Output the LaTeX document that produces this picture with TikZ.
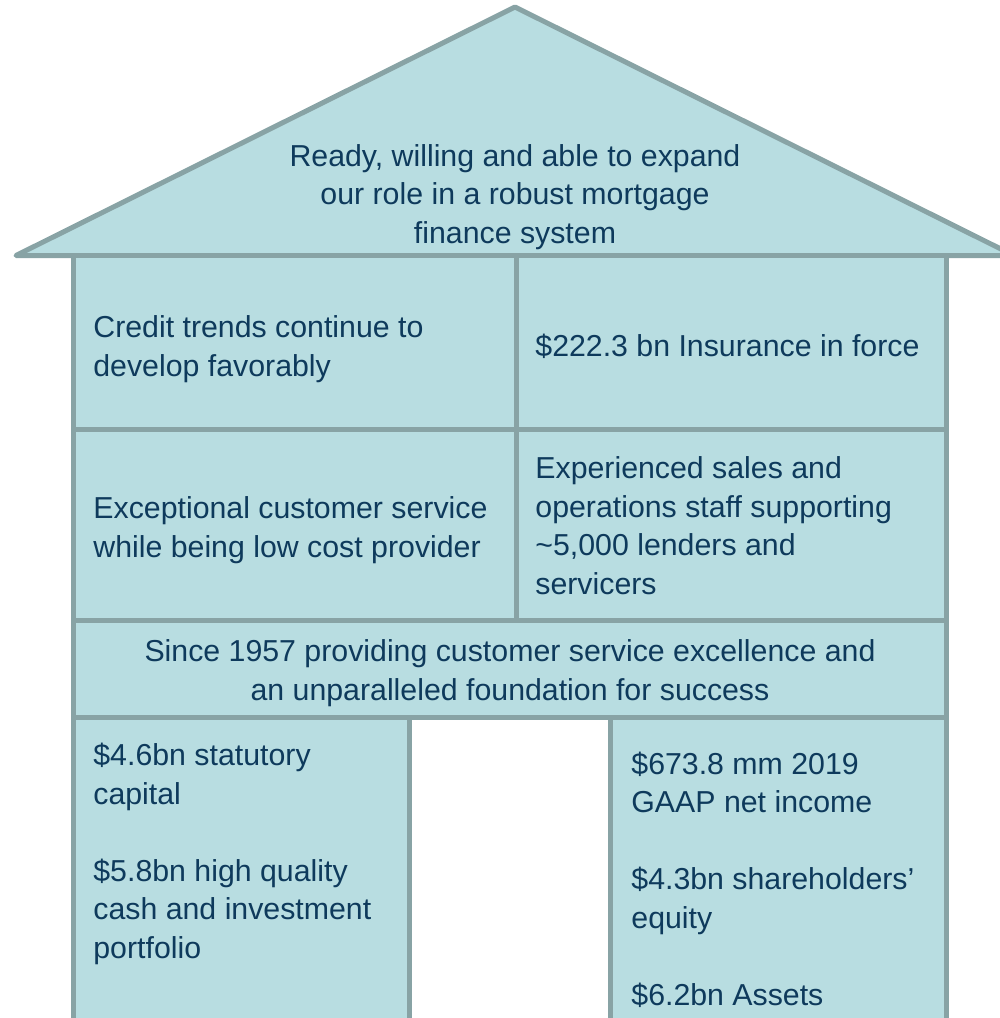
\documentclass[tikz,border=0pt]{standalone}
\usepackage{fontspec}
\setmainfont{Liberation Sans}
\definecolor{wall}{HTML}{B8DDE1}
\definecolor{edge}{HTML}{88A3A5}
\definecolor{ink}{HTML}{0E3A5C}
\begin{document}
\begin{tikzpicture}[x=0.5pt,y=-0.5pt,
  panel/.style={fill=wall,draw=edge,line width=2.5pt,line join=round},
  label/.style={inner sep=0pt,text=ink,font=\fontsize{15.15}{19.25}\selectfont,align=left,anchor=base west},
  centred/.style={label,align=center,anchor=base}]
\useasboundingbox (0,0) rectangle (1000,1018);
\clip (0,0) rectangle (1000,1018);

% roof
\draw[panel] (16,255.5) -- (515,7) -- (1014,255.5) -- cycle;

% upper floors
\draw[panel] (73.5,255.5) rectangle (516,429);
\draw[panel] (516,255.5) rectangle (946.5,429);
\draw[panel] (73.5,429) rectangle (516,620);
\draw[panel] (516,429) rectangle (946.5,620);
\draw[panel] (73.5,620) rectangle (946.5,717);

% pillars either side of the door
\draw[panel] (73.5,717) rectangle (409.5,1040);
\draw[panel] (610.5,717) rectangle (946.5,1040);

% texts (each placed by the baseline of its last line)
\node[centred] (roof) at (515,243) {Ready, willing and able to expand\\our role in a robust mortgage\\finance system};
\node[label] (credit) at (93,376) {Credit trends continue to\\develop favorably};
\node[label] (insurance) at (535,356) {\$222.3 bn Insurance in force};
\node[label] (service) at (93,557) {Exceptional customer service\\while being low cost provider};
\node[label] (staff) at (535,594) {Experienced sales and\\operations staff supporting\\\textasciitilde5,000 lenders and\\servicers};
\node[centred] (since) at (510,700) {Since 1957 providing customer service excellence and\\an unparalleled foundation for success};
\node[label] (capital) at (93,958) {\$4.6bn statutory\\capital\\[19.25pt]\$5.8bn high quality\\cash and investment\\portfolio};
\node[label] (income) at (631,1005) {\$673.8 mm 2019\\GAAP net income\\[19.25pt]\$4.3bn shareholders’\\equity\\[19.25pt]\$6.2bn Assets};
\end{tikzpicture}
\end{document}
